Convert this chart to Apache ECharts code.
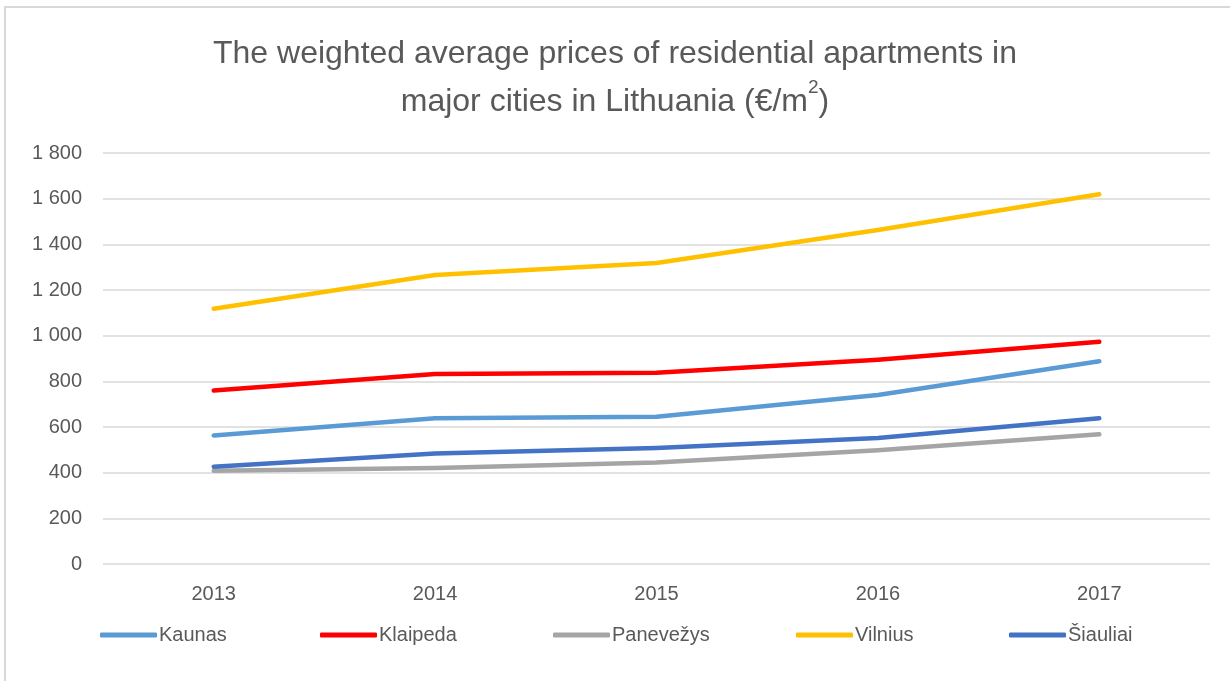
<!DOCTYPE html>
<html>
<head>
<meta charset="utf-8">
<script src="https://cdn.jsdelivr.net/npm/echarts@6/dist/echarts.min.js"></script>
<style>
  html, body { margin: 0; padding: 0; background: #fff; }
  #chart { width: 1230px; height: 681px; }
</style>
</head>
<body>
<div id="chart"></div>
<script>
// Years on the category axis
const years = ['2013', '2014', '2015', '2016', '2017'];

// Weighted average price, €/m², per city
const kaunas    = [563, 638, 645, 740, 888];
const klaipeda  = [760, 832, 838, 895, 973];
const panevezys = [408, 420, 445, 498, 568];
const vilnius   = [1118, 1266, 1318, 1463, 1619];
const siauliai  = [426, 484, 508, 552, 638];

const cityNames  = ['Kaunas', 'Klaipeda', 'Panevežys', 'Vilnius', 'Šiauliai'];
const cityValues = [kaunas, klaipeda, panevezys, vilnius, siauliai];
const cityColors = ['#5B9BD5', '#FF0000', '#A5A5A5', '#FFC000', '#4472C4'];

// Legend entry left positions (one legend per entry for Excel-like spacing)
const legendLefts = [100, 320, 553, 796, 1009];

const FONT = 'Liberation Sans';
const TXT = '#595959';

const chart = echarts.init(document.getElementById('chart'), null, { renderer: 'canvas' });

const option = {
  backgroundColor: '#fff',
  animation: false,
  title: {
    text: 'The weighted average prices of residential apartments in\nmajor cities in Lithuania (€/m{sup|2})',
    left: 'center',
    top: 25,
    textStyle: {
      fontFamily: FONT,
      fontSize: 32,
      fontWeight: 'normal',
      color: TXT,
      lineHeight: 48,
      rich: {
        sup: { fontFamily: FONT, fontSize: 19, color: TXT, verticalAlign: 'top', lineHeight: 48, padding: [0, 0, 6, 0] }
      }
    }
  },
  graphic: [{
    type: 'rect',
    shape: { x: 5, y: 7, width: 1240, height: 700 },
    style: { fill: 'none', stroke: '#d9d9d9', lineWidth: 2 },
    silent: true,
    z: -1
  }],
  legend: cityNames.map((n, i) => ({
    data: [n],
    left: legendLefts[i],
    top: 625,
    padding: 0,
    itemWidth: 57,
    itemHeight: 5,
    itemGap: 0,
    icon: 'roundRect',
    textStyle: { fontFamily: FONT, fontSize: 20, color: TXT, padding: [0, 0, 0, -3] }
  })),
  grid: { left: 103, right: 20, top: 153, bottom: 117, containLabel: false },
  xAxis: {
    type: 'category',
    data: years,
    boundaryGap: true,
    axisLine: { show: false },
    axisTick: { show: false },
    axisLabel: { fontFamily: FONT, fontSize: 20, color: TXT, margin: 20 }
  },
  yAxis: {
    type: 'value',
    min: 0,
    max: 1800,
    interval: 200,
    axisLine: { show: false },
    axisTick: { show: false },
    splitLine: { lineStyle: { color: '#d9d9d9', width: 1.5 } },
    axisLabel: {
      fontFamily: FONT, fontSize: 20, color: TXT, margin: 21,
      formatter: v => String(v).replace(/\B(?=(\d{3})+(?!\d))/g, ' ')
    }
  },
  series: cityNames.map((n, i) => ({
    name: n,
    type: 'line',
    data: cityValues[i],
    symbol: 'none',
    color: cityColors[i],
    lineStyle: { width: 4.5, color: cityColors[i], cap: 'round', join: 'round' }
  }))
};

chart.setOption(option);
</script>
</body>
</html>
